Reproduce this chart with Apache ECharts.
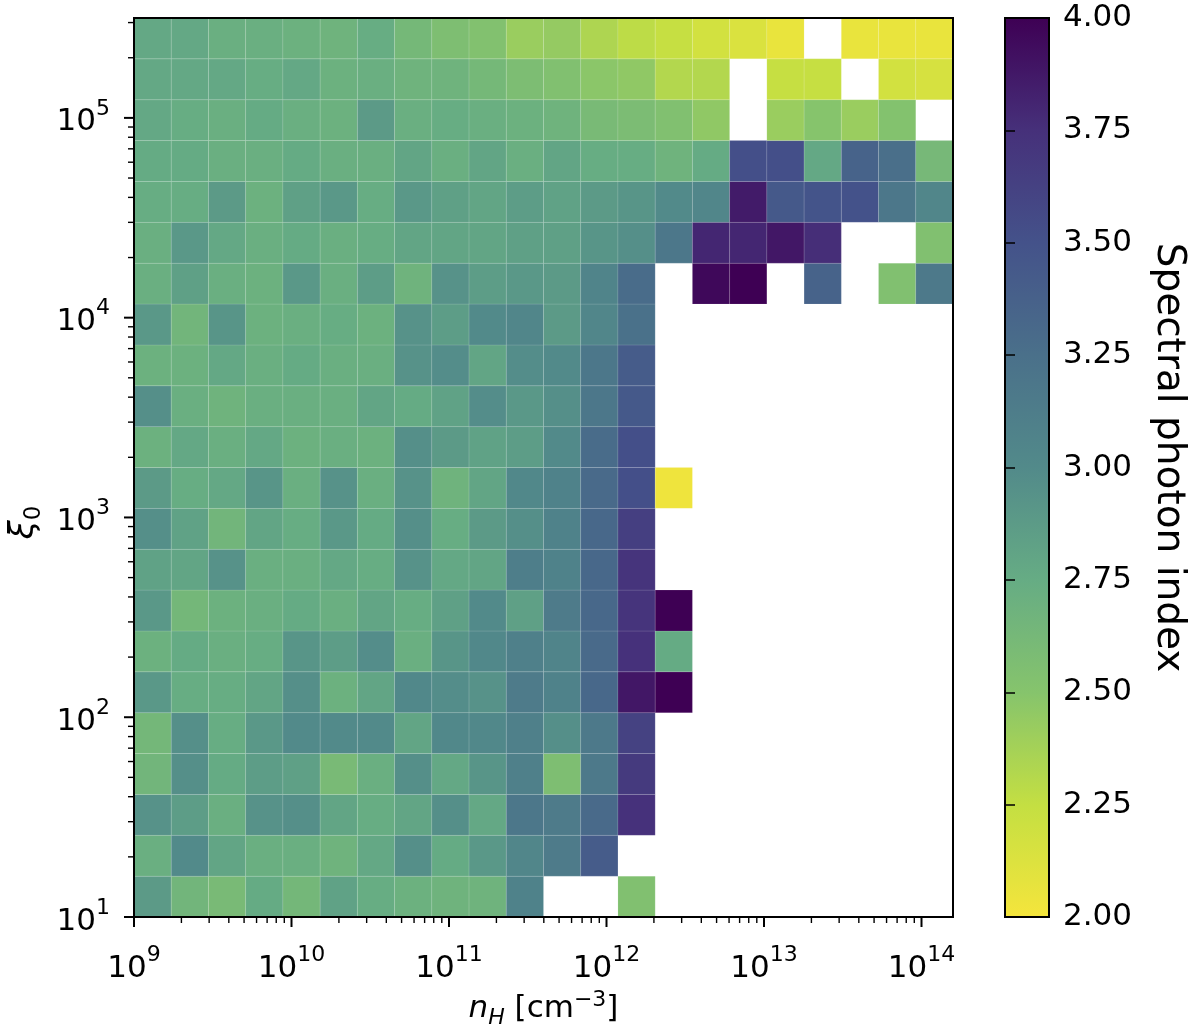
<!DOCTYPE html>
<html>
<head>
<meta charset="utf-8">
<script src="https://cdn.jsdelivr.net/npm/echarts@6/dist/echarts.min.js"></script>
<style>
html,body{margin:0;padding:0;background:#ffffff;}
#chart{width:1200px;height:1026px;}
</style>
</head>
<body>
<div id="chart"></div>
<script>
// ---- axis ranges (log10) and bins ----
const xLogMin = 9, xLogMax = 14.2, nCols = 22;
const yLogMin = 1, yLogMax = 5.5, nRows = 22;
const xTickExponents = [9, 10, 11, 12, 13, 14];
const yTickExponents = [1, 2, 3, 4, 5];
const colorbarTicks = [2.00, 2.25, 2.50, 2.75, 3.00, 3.25, 3.50, 3.75, 4.00];
const colorMin = 2, colorMax = 4;
// colour map stops from value 2 (bottom) to value 4 (top)
const colorStops = ['#f5e53c', '#c4df42', '#86c46c', '#66ac84', '#528a8a', '#4a708a', '#44528a', '#46307a', '#3e0054'];

// ---- spectral photon index per cell, rows from bottom (xi_0 = 10) to top; null = empty ----
const _ = null;
const row00 = [2.88,2.66,2.60,2.76,2.64,2.82,2.74,2.70,2.68,2.68,3.08, _,   _,   2.54,_,   _,   _,   _,   _,   _,   _,   _];
const row01 = [2.72,3.00,2.80,2.72,2.72,2.68,2.78,2.96,2.76,2.90,3.04,3.14,3.42,_,   _,   _,   _,   _,   _,   _,   _,   _];
const row02 = [2.94,2.86,2.72,2.94,2.96,2.80,2.74,2.80,2.96,2.78,3.18,3.14,3.30,3.74,_,   _,   _,   _,   _,   _,   _,   _];
const row03 = [2.66,2.96,2.76,2.86,2.84,2.60,2.72,2.96,2.78,2.92,3.10,2.56,3.16,3.68,_,   _,   _,   _,   _,   _,   _,   _];
const row04 = [2.64,2.96,2.74,2.90,3.00,3.00,3.00,2.80,3.02,3.02,3.10,2.96,3.16,3.62,_,   _,   _,   _,   _,   _,   _,   _];
const row05 = [2.90,2.74,2.74,2.80,2.96,2.70,2.80,3.02,2.98,2.94,3.14,3.08,3.32,3.88,4.00,_,   _,   _,   _,   _,   _,   _];
const row06 = [2.70,2.76,2.72,2.74,2.92,2.86,2.98,2.72,2.92,3.02,3.10,3.06,3.30,3.74,2.76,_,   _,   _,   _,   _,   _,   _];
const row07 = [2.90,2.64,2.70,2.72,2.76,2.72,2.80,2.74,2.84,3.00,2.84,3.14,3.32,3.72,4.00,_,   _,   _,   _,   _,   _,   _];
const row08 = [2.82,2.80,2.94,2.72,2.72,2.78,2.74,2.94,2.78,2.80,3.12,3.08,3.32,3.72,_,   _,   _,   _,   _,   _,   _,   _];
const row09 = [2.96,2.82,2.66,2.80,2.74,2.90,2.76,2.96,2.74,2.88,2.96,3.08,3.32,3.64,_,   _,   _,   _,   _,   _,   _,   _];
const row10 = [2.88,2.74,2.78,2.92,2.72,2.94,2.72,2.94,2.68,2.80,3.02,3.08,3.30,3.52,2.03,_,   _,   _,   _,   _,   _,   _];
const row11 = [2.70,2.78,2.72,2.78,2.70,2.72,2.70,2.96,2.88,2.82,2.86,3.00,3.28,3.52,_,   _,   _,   _,   _,   _,   _,   _];
const row12 = [2.96,2.72,2.68,2.72,2.72,2.72,2.80,2.76,2.82,2.98,2.90,2.96,3.18,3.44,_,   _,   _,   _,   _,   _,   _,   _];
const row13 = [2.70,2.70,2.78,2.72,2.76,2.72,2.72,2.94,2.98,2.80,2.98,3.00,3.18,3.42,_,   _,   _,   _,   _,   _,   _,   _];
const row14 = [2.90,2.66,2.92,2.70,2.72,2.74,2.70,2.94,2.86,3.00,3.04,2.88,3.04,3.24,_,   _,   _,   _,   _,   _,   _,   _];
const row15 = [2.72,2.84,2.72,2.70,2.90,2.72,2.86,2.68,2.94,2.86,2.90,2.88,3.06,3.28,_,   3.96,4.00,_,   3.36,_,   2.54,3.16];
const row16 = [2.72,2.90,2.78,2.72,2.76,2.72,2.74,2.80,2.80,2.80,2.84,2.84,2.92,2.96,3.18,3.80,3.80,3.88,3.76,_,   _,   2.54];
const row17 = [2.74,2.74,2.88,2.70,2.84,2.90,2.74,2.90,2.84,2.80,2.86,2.82,2.88,2.92,3.00,3.04,3.86,3.44,3.48,3.50,3.18,3.04];
const row18 = [2.76,2.76,2.72,2.72,2.76,2.72,2.72,2.80,2.72,2.80,2.72,2.80,2.74,2.74,2.68,2.76,3.52,3.52,2.78,3.36,3.26,2.62];
const row19 = [2.78,2.74,2.72,2.76,2.72,2.70,2.88,2.72,2.74,2.72,2.70,2.68,2.60,2.58,2.54,2.46,_,   2.42,2.50,2.42,2.52,_];
const row20 = [2.78,2.78,2.78,2.74,2.78,2.70,2.72,2.68,2.68,2.63,2.57,2.54,2.48,2.46,2.32,2.32,_,   2.24,2.24,_,   2.18,2.16];
const row21 = [2.78,2.78,2.72,2.72,2.70,2.68,2.74,2.63,2.56,2.53,2.42,2.44,2.34,2.28,2.24,2.18,2.14,2.06,_,   2.06,2.06,2.06];
const gridValues = [row00,row01,row02,row03,row04,row05,row06,row07,row08,row09,row10,
                    row11,row12,row13,row14,row15,row16,row17,row18,row19,row20,row21];

// ---- build library data ----
const dxLog = (xLogMax - xLogMin) / nCols;
const dyLog = (yLogMax - yLogMin) / nRows;
const xMinVal = Math.pow(10, xLogMin), xMaxVal = Math.pow(10, xLogMax);
const yMinVal = Math.pow(10, yLogMin), yMaxVal = Math.pow(10, yLogMax);

const cellData = [];
gridValues.forEach(function (row, r) {
  row.forEach(function (v, c) {
    if (v === null) return;
    cellData.push([
      Math.pow(10, xLogMin + c * dxLog), Math.pow(10, xLogMin + (c + 1) * dxLog),
      Math.pow(10, yLogMin + r * dyLog), Math.pow(10, yLogMin + (r + 1) * dyLog),
      v
    ]);
  });
});

function logTickData(expMin, expMax, vMin, vMax) {
  const out = [];
  for (let e = Math.floor(expMin); e <= Math.ceil(expMax); e++) {
    for (let k = 1; k <= 9; k++) {
      const v = k * Math.pow(10, e);
      if (v >= vMin * 0.999999 && v <= vMax * 1.000001) out.push([v, k === 1 ? 1 : 0]);
    }
  }
  return out;
}
const xTicks = logTickData(xLogMin, xLogMax, xMinVal, xMaxVal).map(function (t) { return [t[0], yMinVal, t[1]]; });
const yTicks = logTickData(yLogMin, yLogMax, yMinVal, yMaxVal).map(function (t) { return [xMinVal, t[0], t[1]]; });

const FONT = 'DejaVu Sans';
const tickFont = 31, supFont = 22;
function powLabel(value) {
  const e = Math.log10(value);
  const re = Math.round(e);
  if (Math.abs(e - re) > 1e-6) return '';
  return '{b|10}{s|' + re + '}';
}
const powRich = {
  b: {fontFamily: FONT, fontSize: tickFont, color: '#000', lineHeight: 40, verticalAlign: 'bottom'},
  s: {fontFamily: FONT, fontSize: supFont, color: '#000', lineHeight: 24, verticalAlign: 'top'}
};
const frameLine = {show: true, lineStyle: {color: '#000', width: 2}};

const chart = echarts.init(document.getElementById('chart'), null, {renderer: 'canvas'});

const gradStops = colorStops.map(function (c, i) {
  return {offset: 1 - i / (colorStops.length - 1), color: c};
});

function boxRenderer(fillFn) {
  return function (params, api) {
    const p0 = api.coord([api.value(0), api.value(1)]);
    const p1 = api.coord([api.value(2), api.value(3)]);
    return {
      type: 'rect',
      shape: {x: p0[0], y: p1[1], width: p1[0] - p0[0], height: p0[1] - p1[1]},
      style: {fill: fillFn(), stroke: '#000', lineWidth: 2}
    };
  };
}

const option = {
  animation: false,
  backgroundColor: '#ffffff',
  grid: [
    {left: 134, top: 18, width: 819, height: 899, containLabel: false, outerBoundsMode: 'none'},
    {left: 1005, top: 18, width: 44, height: 899, containLabel: false, outerBoundsMode: 'none'}
  ],
  xAxis: [
    {
      gridIndex: 0, type: 'log', logBase: 10, min: xMinVal, max: xMaxVal, position: 'bottom', z: 10,
      axisLine: frameLine, axisTick: {show: false}, splitLine: {show: false}, minorTick: {show: false},
      axisLabel: {formatter: powLabel, rich: powRich, margin: 27, showMinLabel: true, showMaxLabel: true},
      name: '{i|n}{sub|H}{r| [cm}{sup|−3}{r|]}', nameLocation: 'middle', nameGap: 64,
      nameTextStyle: {
        rich: {
          i: {fontFamily: FONT, fontStyle: 'italic', fontSize: 31, color: '#000', lineHeight: 40, verticalAlign: 'middle'},
          sub: {fontFamily: FONT, fontStyle: 'italic', fontSize: 22, color: '#000', lineHeight: 40, verticalAlign: 'bottom'},
          r: {fontFamily: FONT, fontSize: 31, color: '#000', lineHeight: 40, verticalAlign: 'middle'},
          sup: {fontFamily: FONT, fontSize: 22, color: '#000', lineHeight: 26, verticalAlign: 'top'}
        }
      }
    },
    {
      gridIndex: 0, type: 'log', logBase: 10, min: xMinVal, max: xMaxVal, position: 'top', z: 10,
      axisLine: frameLine, axisTick: {show: false}, axisLabel: {show: false}, splitLine: {show: false}
    },
    {gridIndex: 1, type: 'value', min: 0, max: 1, show: false}
  ],
  yAxis: [
    {
      gridIndex: 0, type: 'log', logBase: 10, min: yMinVal, max: yMaxVal, position: 'left', z: 10,
      axisLine: frameLine, axisTick: {show: false}, splitLine: {show: false}, minorTick: {show: false},
      axisLabel: {formatter: powLabel, rich: powRich, margin: 24},
      name: '{g|ξ}{sub|0}', nameLocation: 'middle', nameGap: 66, nameRotate: 90,
      nameTextStyle: {
        padding: [0, 110, 0, 0],
        rich: {
          g: {fontFamily: FONT, fontStyle: 'italic', fontSize: 34, color: '#000', lineHeight: 42, verticalAlign: 'middle'},
          sub: {fontFamily: FONT, fontSize: 23, color: '#000', lineHeight: 42, verticalAlign: 'bottom'}
        }
      }
    },
    {
      gridIndex: 0, type: 'log', logBase: 10, min: yMinVal, max: yMaxVal, position: 'right', z: 10,
      axisLine: frameLine, axisTick: {show: false}, axisLabel: {show: false}, splitLine: {show: false}
    },
    {
      gridIndex: 1, type: 'value', min: colorMin, max: colorMax, interval: 0.25, position: 'right', z: 10,
      axisLine: {show: false},
      axisTick: {show: true, length: 10, lineStyle: {color: '#000', width: 1.5}},
      splitLine: {show: false},
      axisLabel: {
        formatter: function (v) { return v.toFixed(2); },
        fontFamily: FONT, fontSize: tickFont, color: '#000', margin: 14
      },
      name: 'Spectral photon index', nameLocation: 'middle', nameRotate: -90, nameGap: 100,
      nameTextStyle: {fontFamily: FONT, fontSize: 39, color: '#000', padding: [0, 20, 0, 0]}
    }
  ],
  visualMap: {
    show: false, type: 'continuous', min: colorMin, max: colorMax, dimension: 4, seriesIndex: 0,
    inRange: {color: colorStops}
  },
  series: [
    {
      name: 'cells', type: 'custom', coordinateSystem: 'cartesian2d', xAxisIndex: 0, yAxisIndex: 0,
      encode: {x: [0, 1], y: [2, 3]},
      data: cellData,
      renderItem: function (params, api) {
        const p0 = api.coord([api.value(0), api.value(2)]);
        const p1 = api.coord([api.value(1), api.value(3)]);
        return {
          type: 'rect',
          shape: {x: p0[0], y: p1[1], width: p1[0] - p0[0], height: p0[1] - p1[1]},
          style: {fill: api.visual('color'), stroke: 'rgba(255,255,255,0.14)', lineWidth: 0.8}
        };
      }
    },
    {
      name: 'frame', type: 'custom', coordinateSystem: 'cartesian2d', xAxisIndex: 0, yAxisIndex: 0,
      data: [[xMinVal, yMinVal, xMaxVal, yMaxVal]], clip: false, z: 11, silent: true,
      renderItem: boxRenderer(function () { return 'none'; })
    },
    {
      name: 'xticks', type: 'custom', coordinateSystem: 'cartesian2d', xAxisIndex: 0, yAxisIndex: 0,
      data: xTicks, clip: false, z: 12, silent: true,
      renderItem: function (params, api) {
        const p = api.coord([api.value(0), api.value(1)]);
        const major = api.value(2) === 1;
        return {
          type: 'line',
          shape: {x1: p[0], y1: p[1], x2: p[0], y2: p[1] + (major ? 10 : 6)},
          style: {stroke: '#000', lineWidth: major ? 2 : 1.4}
        };
      }
    },
    {
      name: 'yticks', type: 'custom', coordinateSystem: 'cartesian2d', xAxisIndex: 0, yAxisIndex: 0,
      data: yTicks, clip: false, z: 12, silent: true,
      renderItem: function (params, api) {
        const p = api.coord([api.value(0), api.value(1)]);
        const major = api.value(2) === 1;
        return {
          type: 'line',
          shape: {x1: p[0], y1: p[1], x2: p[0] - (major ? 10 : 6), y2: p[1]},
          style: {stroke: '#000', lineWidth: major ? 2 : 1.4}
        };
      }
    },
    {
      name: 'colorbar', type: 'custom', coordinateSystem: 'cartesian2d', xAxisIndex: 2, yAxisIndex: 2,
      data: [[0, colorMin, 1, colorMax]], silent: true,
      renderItem: boxRenderer(function () { return new echarts.graphic.LinearGradient(0, 0, 0, 1, gradStops); })
    }
  ]
};
chart.setOption(option);
</script>
</body>
</html>
